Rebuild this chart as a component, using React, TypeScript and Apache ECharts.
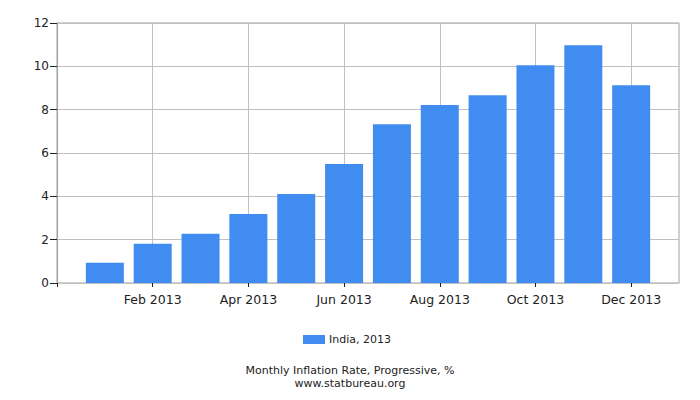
import React, { useEffect, useRef } from "react";
import * as echarts from "echarts";

const categories = ["", "Jan 2013", "Feb 2013", "Mar 2013", "Apr 2013", "May 2013", "Jun 2013", "Jul 2013", "Aug 2013", "Sep 2013", "Oct 2013", "Nov 2013", "Dec 2013", ""];
const values: (number | null)[] = [null, 0.93, 1.81, 2.27, 3.19, 4.11, 5.49, 7.33, 8.21, 8.67, 10.05, 10.97, 9.13, null];
const seriesName = "India, 2013";
const titleText = "Monthly Inflation Rate, Progressive, %";
const subText = "www.statbureau.org";

const FONT = "DejaVu Sans";
const shownIdx = (i: number) => i > 0 && i < 13 && i % 2 === 0;

export default function App() {
  const ref = useRef<HTMLDivElement>(null);
  useEffect(() => {
    if (!ref.current) return;
    const chart = echarts.init(ref.current, null, { renderer: "svg" });
    chart.setOption({
      animation: false,
      textStyle: { fontFamily: FONT },
      title: [
        { text: titleText, left: "center", top: 364, padding: 0, textStyle: { fontFamily: FONT, fontSize: 11, lineHeight: 13, fontWeight: "normal", color: "#222" } },
        { text: subText, left: "center", top: 377, padding: 0, textStyle: { fontFamily: FONT, fontSize: 11, lineHeight: 13, fontWeight: "normal", color: "#222" } },
      ],
      legend: {
        data: [seriesName],
        left: 303,
        top: 334,
        padding: 0,
        icon: "rect",
        itemWidth: 22,
        itemHeight: 9,
        itemGap: 10,
        textStyle: { fontFamily: FONT, fontSize: 11, color: "#222", padding: [0, 0, 0, -1] },
      },
      grid: { left: 57, right: 21, top: 23, bottom: 117, show: true, borderColor: "#a0a0a0", borderWidth: 1, backgroundColor: "transparent" },
      xAxis: {
        type: "category",
        data: categories,
        boundaryGap: false,
        axisLine: { lineStyle: { color: "#c0c0c0" } },
        axisTick: { show: true, length: 4, interval: (i: number) => i % 2 === 0 && i < 13, lineStyle: { color: "#222" } },
        axisLabel: { interval: (i: number) => shownIdx(i), fontSize: 12.5, color: "#222", margin: 10, fontFamily: FONT },
        splitLine: { show: true, interval: (i: number) => shownIdx(i), lineStyle: { color: "#c0c0c0" } },
      },
      yAxis: {
        type: "value",
        min: 0,
        max: 12,
        interval: 2,
        axisLine: { show: true, lineStyle: { color: "#a0a0a0" } },
        axisTick: { show: true, length: 7, lineStyle: { color: "#222" } },
        axisLabel: { fontSize: 12, color: "#222", margin: 8, fontFamily: FONT },
        splitLine: { show: true, lineStyle: { color: "#c0c0c0" } },
      },
      series: [
        {
          name: seriesName,
          type: "bar",
          data: values,
          barWidth: 38,
          itemStyle: { color: "#418cf0" },
        },
      ],
    });
    return () => chart.dispose();
  }, []);
  return <div ref={ref} style={{ position: "absolute", left: 0, top: 0, width: 700, height: 400 }} />;
}
